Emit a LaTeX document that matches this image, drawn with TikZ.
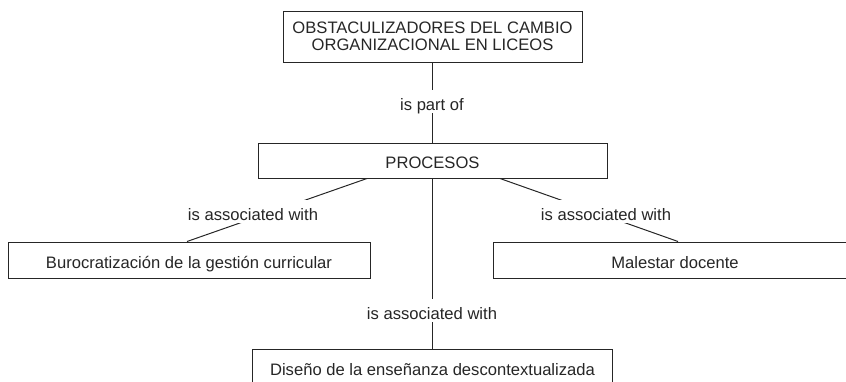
\documentclass[tikz,border=0pt]{standalone}
\usepackage{fontspec}
\setmainfont{Liberation Sans}
\begin{document}
\begin{tikzpicture}[x=1pt,y=-1pt,
  every node/.style={font=\fontsize{16.6}{17}\selectfont, text=black!85},
  box/.style={draw=black!85, line width=1pt, inner sep=0pt},
  single/.style={text height=16pt, text depth=0pt},
  lab/.style={fill=white, inner xsep=3pt, inner ysep=0pt, text height=20pt, text depth=3pt, anchor=base},
  link/.style={draw=black!85, line width=1pt}]
\useasboundingbox (0,0) rectangle (846,381);
\clip (0,0) rectangle (846,381);
% concepts
\node[box, align=center, minimum width=299pt, minimum height=51pt] (top) at (432.5,36.5) {OBSTACULIZADORES DEL CAMBIO\\ORGANIZACIONAL EN LICEOS};
\node[box, single, minimum width=349pt, minimum height=35pt] (proc) at (432.5,160.5) {PROCESOS};
\node[box, single, minimum width=362pt, minimum height=36pt] (buro) at (189,260) {Burocratización de la gestión curricular};
\node[box, single, minimum width=364pt, minimum height=36pt] (male) at (675,260) {Malestar docente};
\node[box, single, minimum width=360pt, minimum height=36pt] (dise) at (432.5,367) {Diseño de la enseñanza descontextualizada};
% connector end points
\coordinate (pl) at ([xshift=-65.5pt]proc.south);
\coordinate (bt) at ([xshift=-2pt]buro.north);
\coordinate (pr) at ([xshift=67.5pt]proc.south);
\coordinate (mt) at ([xshift=3pt]male.north);
% connectors
\draw[link] (top) -- (proc);
\draw[link] (pl) -- (bt);
\draw[link] (pr) -- (mt);
\draw[link] (proc) -- (dise);
% linking phrases
\node[lab] (l1) at (432,110) {is part of};
\node[lab] (l2) at (253,220) {is associated with};
\node[lab] (l3) at (606,220) {is associated with};
\node[lab] (l4) at (432,319) {is associated with};
\end{tikzpicture}
\end{document}
